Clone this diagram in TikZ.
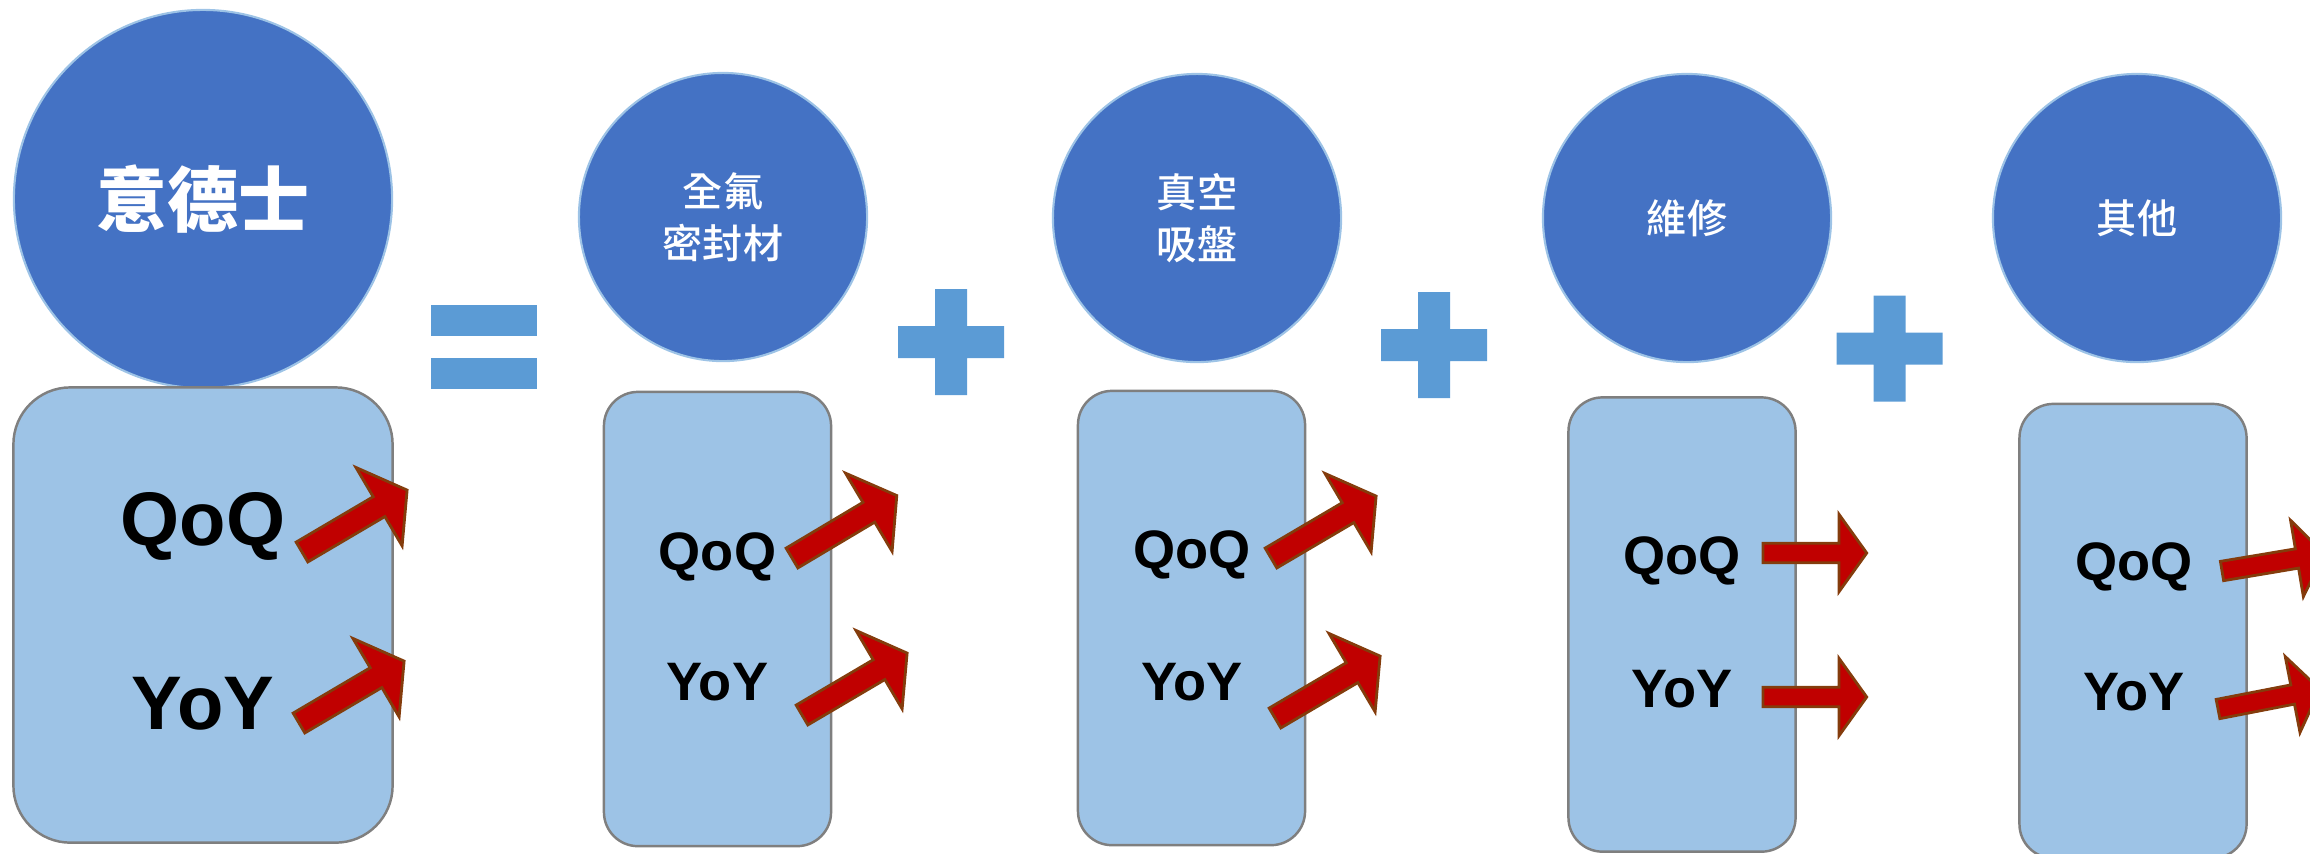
\documentclass[tikz,border=0pt]{standalone}
\usepackage{fontspec}
\setmainfont{Liberation Sans}
\newfontfamily\cjk{Noto Sans CJK TC}
\newfontfamily\cjkmid{Noto Sans CJK TC Medium}
\usepackage{xcolor}

\definecolor{circblue}{HTML}{4472C4}
\definecolor{circedge}{HTML}{9DC3E6}
\definecolor{boxblue}{HTML}{9DC3E6}
\definecolor{boxedge}{HTML}{7F7F7F}
\definecolor{opblue}{HTML}{5B9BD5}
\definecolor{arrred}{HTML}{C00000}
\definecolor{arredge}{HTML}{843C0C}

\tikzset{
	topic/.style={circle, draw=circedge, line width=0.6pt, fill=circblue, text=white, inner sep=0pt,
		minimum size=2.88cm, align=center, font=\cjkmid\fontsize{11.4}{14.8}\selectfont},
	panel/.style={rectangle, draw=boxedge, line width=0.7pt, fill=boxblue, rounded corners=0.34cm,
		minimum width=2.27cm, minimum height=4.54cm},
	ratio/.style={text=black, inner sep=0pt, font=\bfseries\fontsize{15.4}{18}\selectfont},
	redarrow/.style={fill=arrred, draw=arredge, line width=0.8pt, line join=miter},
	opbar/.style={fill=opblue},
}

\begin{document}
\begin{tikzpicture}[x=0.01cm, y=-0.01cm]
		\def\redarrow#1#2#3#4{\draw[redarrow, shift={(#1,#2)}, rotate=#3, scale=#4]
			(0,-11.5) -- (89.4,-11.5) -- (89.4,-45.5) -- (122,0) -- (89.4,45.5) -- (89.4,11.5) -- (0,11.5) -- cycle;}
		\def\plussign#1#2{\fill[opbar, shift={(#1,#2)}] (-53,-16) rectangle (53,16) (-16,-53) rectangle (16,53);}
		\useasboundingbox (0,0) rectangle (2310,853);

		% whole company
		\node[topic, minimum size=3.78cm, font=\cjk\bfseries\fontsize{20.2}{24}\selectfont] (ids) at (203,199) {意德士};
		\node[panel, minimum width=3.79cm, minimum height=4.55cm, rounded corners=0.57cm] (idsbox) at (203,615) {};
		\node[ratio, font=\bfseries\fontsize{21.6}{26}\selectfont] (idsq) at (203,526) {QoQ};
		\node[ratio, font=\bfseries\fontsize{21.6}{26}\selectfont] (idsy) at (203,704) {YoY};
		\redarrow{302}{552}{30.5}{1}
		\redarrow{299}{723}{30.5}{1}

		\fill[opbar] (431,305) rectangle (537,336);
		\fill[opbar] (431,358) rectangle (537,389);

		% segments
		\node[topic] (seal) at (723,217) {全氟\\密封材};
		\node[panel] (sealbox) at (717.5,619) {};
		\node[ratio] (sealq) at (717.5,557) {QoQ};
		\node[ratio] (sealy) at (717.5,682) {YoY};
		\redarrow{792}{558}{30.8}{1}
		\redarrow{802}{715}{30.5}{1}

		\plussign{951}{342}

		\node[topic] (vac) at (1197,218) {真空\\吸盤};
		\node[panel] (vacbox) at (1191.5,618) {};
		\node[ratio] (vacq) at (1192,555) {QoQ};
		\node[ratio] (vacy) at (1192,682) {YoY};
		\redarrow{1271}{558}{30.5}{1}
		\redarrow{1275}{718}{30.5}{1}

		\plussign{1434}{345}

		\node[topic] (fix) at (1687,218) {維修};
		\node[panel] (fixbox) at (1682,624.5) {};
		\node[ratio] (fixq) at (1682,561) {QoQ};
		\node[ratio] (fixy) at (1682,689) {YoY};
		\redarrow{1763}{553}{0}{0.85}
		\redarrow{1763}{697}{0}{0.85}

		\plussign{1889.5}{348.5}

		\node[topic] (other) at (2137,218) {其他};
		\node[panel] (otherbox) at (2133,631) {};
		\node[ratio] (otherq) at (2134,567) {QoQ};
		\node[ratio] (othery) at (2134,692) {YoY};
		\redarrow{2222}{571}{9.5}{0.85}
		\redarrow{2218}{709}{11}{0.85}
	\end{tikzpicture}
\end{document}
